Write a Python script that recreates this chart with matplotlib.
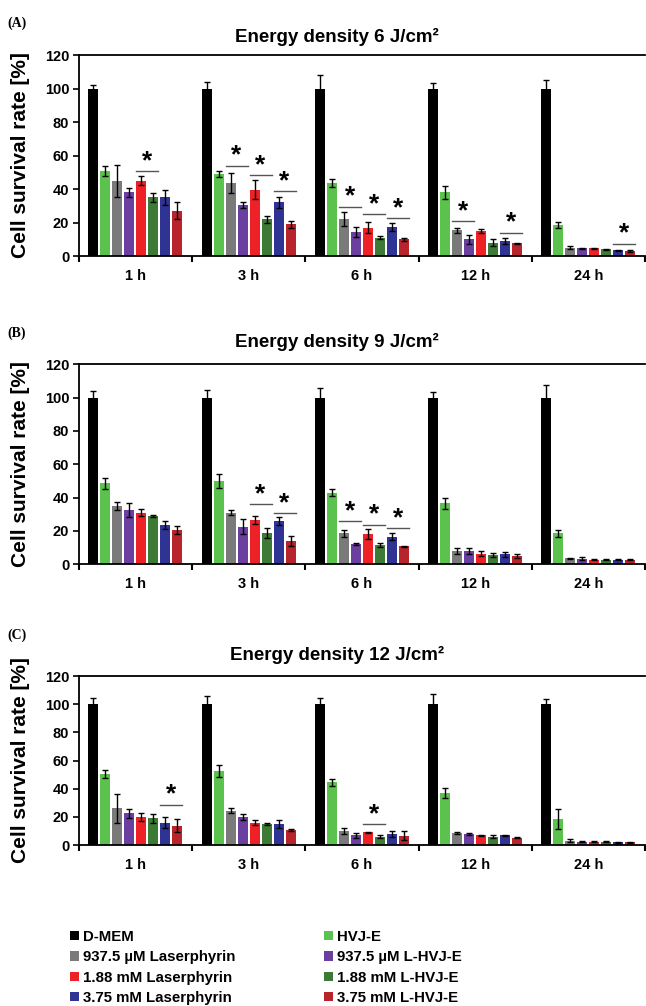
import numpy as np
import matplotlib
matplotlib.use("Agg")
import matplotlib.pyplot as plt

plt.rcParams['font.family'] = ['Liberation Sans', 'DejaVu Sans']
plt.rcParams['font.weight'] = 'bold'

times = ["1 h", "3 h", "6 h", "12 h", "24 h"]
labels = ["D-MEM", "HVJ-E", "937.5 µM Laserphyrin", "937.5 µM L-HVJ-E",
          "1.88 mM Laserphyrin", "1.88 mM L-HVJ-E",
          "3.75 mM Laserphyrin", "3.75 mM L-HVJ-E"]
colors = ["#000000", "#5cc24e", "#7a7a7a", "#6a3fa0",
          "#ee2226", "#3d7a35", "#2f3394", "#b8242c"]

# rows follow labels, columns follow times
means_6J = [[100, 100, 100, 100, 100],
            [51, 49, 43.5, 38, 18.5],
            [45, 43.5, 22, 15.5, 5],
            [38, 30.5, 14.5, 10, 4.5],
            [45, 39.5, 17, 15, 4.5],
            [35, 22, 11, 8, 4],
            [35, 32, 17.5, 9, 3.5],
            [27, 19, 10, 7.5, 3]]
err_6J = [[2, 4, 8, 3.5, 5],
          [3, 1.6, 2.4, 3.8, 2],
          [9.5, 6, 4, 1.5, 1],
          [2.5, 2, 3, 2.6, 0.3],
          [2.5, 5.7, 3.5, 1, 0.5],
          [2.7, 2, 1, 2.2, 0.3],
          [4.3, 3.5, 2.5, 2, 0.3],
          [5, 2, 1, 0.5, 0.5]]

means_9J = [[100, 100, 100, 100, 100],
            [48.5, 50, 43, 36.5, 18.5],
            [35, 31, 18.5, 8, 3.5],
            [32.5, 22.5, 12, 8, 3.4],
            [31, 26.5, 18, 6.2, 2.8],
            [29, 18.5, 11.5, 5.5, 2.8],
            [23.5, 26, 16.5, 6, 2.8],
            [20.5, 14, 10.8, 5, 2.8]]
err_9J = [[4, 4.5, 6, 3.6, 7.5],
          [3.5, 4, 2, 3.5, 2],
          [2.5, 1.5, 2, 2, 0.3],
          [4, 4.5, 0.5, 1.8, 0.8],
          [2, 2.5, 3, 1.5, 0.3],
          [0.5, 3, 1.3, 1, 0.3],
          [2.5, 2.2, 2.2, 1.5, 0.3],
          [2.5, 3.2, 0.3, 1.2, 0.3]]

means_12J = [[100, 100, 100, 100, 100],
             [50.5, 52.5, 44.5, 37, 18.7],
             [26, 24.5, 10, 8.8, 3],
             [22.5, 20, 7, 7.8, 2.5],
             [20, 16, 9, 6.9, 2.5],
             [19, 15, 6, 6, 2.5],
             [16, 15, 7.8, 6.8, 2],
             [13.7, 10.7, 6.6, 5.3, 2]]
err_12J = [[4.5, 6, 4.5, 7.5, 3.5],
           [2.8, 4, 2.5, 3.5, 7],
           [10, 1.7, 2, 0.8, 1],
           [3, 2, 1.7, 0.5, 0.3],
           [3, 1.5, 0.5, 0.3, 0.3],
           [3, 1, 1.2, 1.3, 0.3],
           [4, 2.8, 2.2, 0.4, 0.3],
           [4.5, 1, 3.3, 0.3, 0.3]]

# significance marks: (time index, first bar of the pair, height of the line)
sig_6J = [(0, 4, 50.5), (1, 2, 54), (1, 4, 48.4), (1, 6, 38.6),
          (2, 2, 29.5), (2, 4, 25.2), (2, 6, 22.7),
          (3, 2, 20.7), (3, 6, 14), (4, 6, 7.4)]
sig_9J = [(1, 4, 36), (1, 6, 30.6), (2, 2, 25.8), (2, 4, 23.8), (2, 6, 21.6)]
sig_12J = [(0, 6, 28.7), (2, 4, 14.9)]

panels = [
    ("(A)", "Energy density 6 J/cm²", means_6J, err_6J, sig_6J,
     [0.1223, 0.7455, 0.876, 0.1998], 0.9635, 0.977),
    ("(B)", "Energy density 9 J/cm²", means_9J, err_9J, sig_9J,
     [0.1223, 0.4391, 0.876, 0.1988], 0.6604, 0.6687),
    ("(C)", "Energy density 12 J/cm²", means_12J, err_12J, sig_12J,
     [0.1223, 0.1600, 0.876, 0.1680], 0.3489, 0.3688),
]

fig = plt.figure(figsize=(6.46, 10.06), dpi=100)
pitch = 0.106
width = 0.088
x = np.arange(len(times))

for tag, title, means, errs, sigs, rect, ty, tagy in panels:
    ax = fig.add_axes(rect)
    for k in range(len(labels)):
        pos = x + 0.498 + (k - 3.5) * pitch
        ax.bar(pos, means[k], width, color=colors[k], yerr=errs[k],
               error_kw=dict(ecolor='black', elinewidth=1, capsize=2.3,
                             capthick=1), label=labels[k])

    for t, k, y in sigs:
        x0 = t + 0.498 + (k - 3.5) * pitch - width / 2
        x1 = t + 0.498 + (k + 1 - 3.5) * pitch + width / 2
        ax.plot([x0, x1], [y, y], color='#555555', lw=1)
        ax.annotate("*", ((x0 + x1) / 2, y), xytext=(0, -1.5),
                    textcoords='offset points', ha='center', va='bottom',
                    fontsize=19, fontweight='bold', color='black')

    ax.set_xlim(0, 5)
    ax.set_ylim(0, 120)
    ax.set_yticks(np.arange(0, 121, 20))
    ax.set_xticks(np.arange(0, 6))
    ax.set_xticklabels([])
    ax.set_xticks(x + 0.5, minor=True)
    ax.set_xticklabels(times, minor=True)
    ax.tick_params(axis='x', which='major', direction='out', length=4, width=1.5)
    ax.tick_params(axis='x', which='minor', length=0, pad=9, labelsize=10.5)
    ax.tick_params(axis='y', direction='out', length=4, width=1.2, labelsize=10.5, pad=3)
    ax.spines['right'].set_visible(False)
    for s in ['top', 'left', 'bottom']:
        ax.spines[s].set_linewidth(1.3)

    mid = rect[1] + rect[3] / 2
    fig.text(0.031, mid, "Cell survival rate [%]", rotation=90, ha='center',
             va='center', fontsize=15, fontweight='bold')
    fig.text(0.522, ty, title, ha='center', va='center', fontsize=13.5,
             fontweight='bold')
    fig.text(0.011, tagy, tag, ha='left', va='center', fontsize=10,
             fontweight='bold', family='Liberation Serif')

h, l = ax.get_legend_handles_labels()
left = [0, 2, 4, 6]
right = [1, 3, 5, 7]
common = dict(frameon=False, fontsize=10.8, handlelength=0.6, handleheight=0.6,
              handletextpad=0.3, labelspacing=0.42, borderpad=0, borderaxespad=0,
              loc='upper left')
fig.legend([h[i] for i in left], [l[i] for i in left],
           bbox_to_anchor=(0.108, 1 - 930 / 1006), **common)
fig.legend([h[i] for i in right], [l[i] for i in right],
           bbox_to_anchor=(0.501, 1 - 930 / 1006), **common)

fig.savefig("out.png", dpi=100)
